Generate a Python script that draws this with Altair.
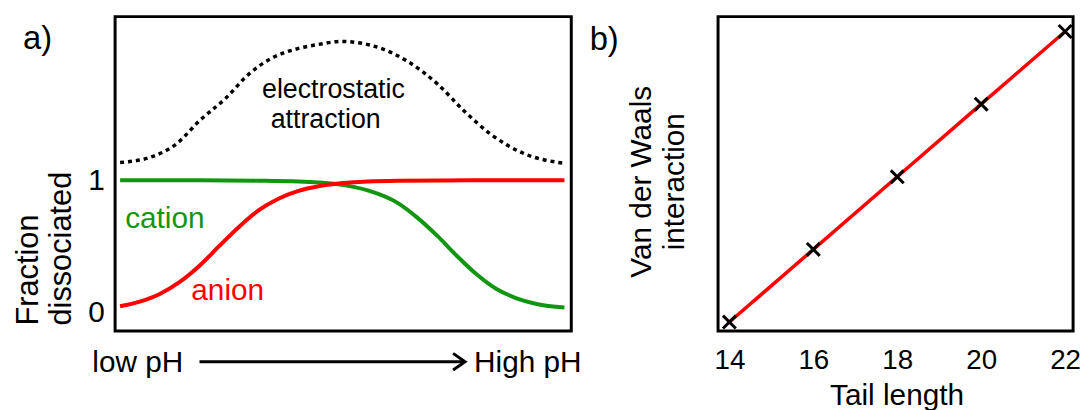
import altair as alt
import pandas as pd

FONT = "Liberation Sans"
RED = "#ff0000"
GREEN = "#129612"

# ---------------- Panel a data (x: position from low pH to high pH, 0-10) ----------------
anion_x = [0.11, 0.54, 0.98, 1.41, 1.85, 2.28, 2.72, 3.15, 3.59, 4.02, 4.46, 4.89, 5.54, 6.20, 7.28, 8.37, 9.85]
anion_y = [0.045, 0.080, 0.138, 0.227, 0.352, 0.500, 0.648, 0.773, 0.862, 0.920, 0.955, 0.975, 0.990, 0.996, 0.999, 1.0, 1.0]

cation_x = [0.11, 1.85, 3.15, 4.02, 4.46, 4.89, 5.54, 6.20, 6.63, 7.07, 7.50, 7.93, 8.37, 8.80, 9.24, 9.85]
cation_y = [1.0, 1.0, 0.997, 0.991, 0.983, 0.969, 0.923, 0.827, 0.715, 0.576, 0.424, 0.285, 0.173, 0.105, 0.062, 0.035]

elec_x = [0.11, 0.76, 1.35, 1.85, 2.43, 2.93, 3.43, 4.02, 4.46, 4.96, 5.83, 6.41, 7.07, 7.65, 8.22, 8.96, 9.85]
elec_y = [1.135, 1.173, 1.278, 1.451, 1.624, 1.805, 1.925, 2.0, 2.03, 2.053, 2.0, 1.902, 1.729, 1.526, 1.353, 1.203, 1.128]

frac_ticks = [0, 1]

# ---------------- Panel b data ----------------
tail_length = [14, 16, 18, 20, 22]
vdw = [1, 2, 3, 4, 5]
tail_ticks = [14, 16, 18, 20, 22]

# ---------------- scales / axes ----------------
xs_a = alt.Scale(domain=[0, 10], nice=False, zero=False)
ys_a = alt.Scale(domain=[-0.143, 2.241], nice=False, zero=False)
ax_a_y = alt.Axis(values=frac_ticks, format="d", labelFontSize=30, labelFont=FONT, labelColor="black",
                  labelPadding=11, ticks=False, tickSize=0, domain=False, grid=False,
                  labelBaseline="middle",
                  title=["Fraction", "dissociated"], titleFont=FONT, titleFontSize=31,
                  titleFontWeight="normal", titleColor="black", titleLineHeight=33,
                  titleAngle=270, titleAlign="left", titleBaseline="alphabetic",
                  titleX=-78, titleY=311)


def enc_a():
    return dict(x=alt.X("x:Q", scale=xs_a, axis=None),
                y=alt.Y("y:Q", scale=ys_a, axis=ax_a_y))


xs_b = alt.Scale(domain=[13.73, 22.19], nice=False, zero=False)
ys_b = alt.Scale(domain=[0.877, 5.205], nice=False, zero=False)
ax_b_x = alt.Axis(values=tail_ticks, format="d", labelFontSize=28, labelFont=FONT, labelColor="black",
                  labelPadding=16, ticks=False, tickSize=0, domain=False, grid=False,
                  title="Tail length", titleFont=FONT, titleFontSize=30, titleFontWeight="normal",
                  titleColor="black", titleX=180, titleY=74, titleBaseline="alphabetic",
                  titleAlign="center")
ax_b_y = alt.Axis(labels=False, ticks=False, domain=False, grid=False,
                  title=["Van der Waals", "interaction"], titleFont=FONT, titleFontSize=30,
                  titleFontWeight="normal", titleColor="black", titleLineHeight=33,
                  titleAngle=270, titleAlign="center", titleBaseline="alphabetic",
                  titleX=-68, titleY=166)


def enc_b():
    return dict(x=alt.X("x:Q", scale=xs_b, axis=ax_b_x),
                y=alt.Y("y:Q", scale=ys_b, axis=ax_b_y))


# ---------------- Panel a ----------------
df_anion = pd.DataFrame({"x": anion_x, "y": anion_y})
df_cation = pd.DataFrame({"x": cation_x, "y": cation_y})
df_elec = pd.DataFrame({"x": elec_x, "y": elec_y})

elec = alt.Chart(df_elec).mark_line(color="black", strokeWidth=3.5, strokeDash=[4, 4],
                                    strokeCap="butt", interpolate="monotone").encode(**enc_a())
cation = alt.Chart(df_cation).mark_line(color=GREEN, strokeWidth=4,
                                        interpolate="monotone").encode(**enc_a())
anion = alt.Chart(df_anion).mark_line(color=RED, strokeWidth=4,
                                      interpolate="monotone").encode(**enc_a())


def label_a(text, x, y, size, color="black"):
    d = pd.DataFrame({"x": [x], "y": [y], "t": [text]})
    return alt.Chart(d).mark_text(font=FONT, fontSize=size, color=color, align="left",
                                  baseline="alphabetic").encode(text="t:N", **enc_a())


arrow_df = pd.DataFrame({"x": [1.85], "x2": [7.63], "y": [-0.376]})
arrow_line = alt.Chart(arrow_df).mark_rule(color="black", strokeWidth=3, strokeCap="butt").encode(
    x2="x2:Q", **enc_a())
head_df = pd.DataFrame({"x": [7.54], "y": [-0.376]})
arrow_head = alt.Chart(head_df).mark_point(shape="M-1,-1.4L1,0L-1,1.4", size=144, filled=False,
                                           color="black", strokeWidth=3, opacity=1).encode(**enc_a())

panel_a = alt.layer(
    elec, cation, anion,
    label_a("electrostatic", 3.22, 1.624, 27),
    label_a("attraction", 3.41, 1.398, 27),
    label_a("cation", 0.22, 0.639, 30, GREEN),
    label_a("anion", 1.67, 0.090, 30, RED),
    label_a("a)", -2.02, 1.992, 33),
    label_a("low pH", -0.5, -0.451, 30),
    label_a("High pH", 7.87, -0.451, 30),
    arrow_line, arrow_head,
).properties(width=460, height=317)

# ---------------- Panel b ----------------
df_b = pd.DataFrame({"x": tail_length, "y": vdw})
line_b = alt.Chart(df_b).mark_line(color=RED, strokeWidth=3.5).encode(**enc_b())
pts_b = alt.Chart(df_b).mark_point(shape="M-1,-1L1,1M-1,1L1,-1", size=169, filled=False,
                                   color="black", strokeWidth=3, opacity=1).encode(**enc_b())
lab_b_df = pd.DataFrame({"x": [10.67], "y": [4.74], "t": ["b)"]})
lab_b = alt.Chart(lab_b_df).mark_text(font=FONT, fontSize=33, color="black", align="left",
                                      baseline="alphabetic").encode(text="t:N", **enc_b())

panel_b = alt.layer(line_b, pts_b, lab_b).properties(width=358, height=317)

chart = alt.hconcat(panel_a, panel_b, spacing=148, bounds="flush").properties(
    padding={"left": 3, "top": 5, "right": 0, "bottom": 0},
    background="white",
).configure(font=FONT).configure_view(stroke="black", strokeWidth=3)

chart.save("out.html", embed_options={"renderer": "svg", "actions": False})
